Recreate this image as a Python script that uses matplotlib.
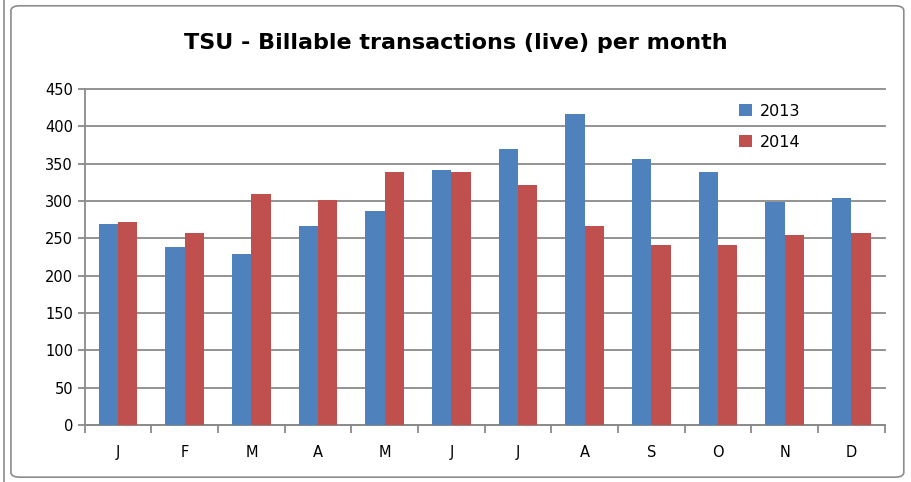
import matplotlib.pyplot as plt
import numpy as np
from matplotlib.patches import FancyBboxPatch

months = ['J', 'F', 'M', 'A', 'M', 'J', 'J', 'A', 'S', 'O', 'N', 'D']
vals_2013 = [269, 238, 229, 267, 287, 342, 370, 417, 356, 339, 299, 304]
vals_2014 = [272, 258, 310, 301, 339, 339, 321, 267, 241, 241, 255, 258]
series_labels = ['2013', '2014']

fig = plt.figure(figsize=(9.12, 4.82), dpi=100)

# chart frame
frame = FancyBboxPatch((0.012, 0.01), 0.979, 0.978,
                       boxstyle="round,pad=0,rounding_size=0.01",
                       transform=fig.transFigure, facecolor='none',
                       edgecolor='#8c8c8c', linewidth=1.2, zorder=-10)
fig.patches.append(frame)
fig.add_artist(plt.Line2D([0.004, 0.004], [0, 1], transform=fig.transFigure,
                          color='#8c8c8c', linewidth=1.2))

ax = fig.add_axes([0.093, 0.118, 0.877, 0.697])
ax.set_facecolor('none')

x = np.arange(len(months))
w = 0.29
ax.bar(x - w / 2, vals_2013, width=w, color='#4F81BD', label=series_labels[0], zorder=3)
ax.bar(x + w / 2, vals_2014, width=w, color='#C0504D', label=series_labels[1], zorder=3)

ax.set_xlim(-0.5, len(months) - 0.5)
ax.set_ylim(0, 450)
ax.set_yticks(range(0, 451, 50))
ax.yaxis.grid(True, color='#8a8a8a', linewidth=1.3, zorder=0)
ax.set_axisbelow(True)
for gl in ax.get_ygridlines():
    gl.set_clip_on(False)

ax.set_xticks(x)
ax.set_xticklabels(months)
ax.set_xticks(np.arange(-0.5, len(months)), minor=True)
ax.tick_params(axis='x', which='major', length=0, pad=14, labelsize=10.5)
ax.tick_params(axis='x', which='minor', length=6, color='#8a8a8a', width=1.3)
ax.tick_params(axis='y', length=5, color='#8a8a8a', width=1.3, labelsize=10.5)

for s in ['top', 'right']:
    ax.spines[s].set_visible(False)
for s in ['left', 'bottom']:
    ax.spines[s].set_color('#8a8a8a')
    ax.spines[s].set_linewidth(1.3)

ax.legend(loc='upper left', bbox_to_anchor=(0.8, 1.0), frameon=False,
          fontsize=11.5, handlelength=0.8, handleheight=0.8,
          handletextpad=0.5, labelspacing=1.0)

fig.text(0.5, 0.91, 'TSU - Billable transactions (live) per month',
         ha='center', va='center', fontsize=16, fontweight='bold')

fig.savefig('out.png', dpi=100)
